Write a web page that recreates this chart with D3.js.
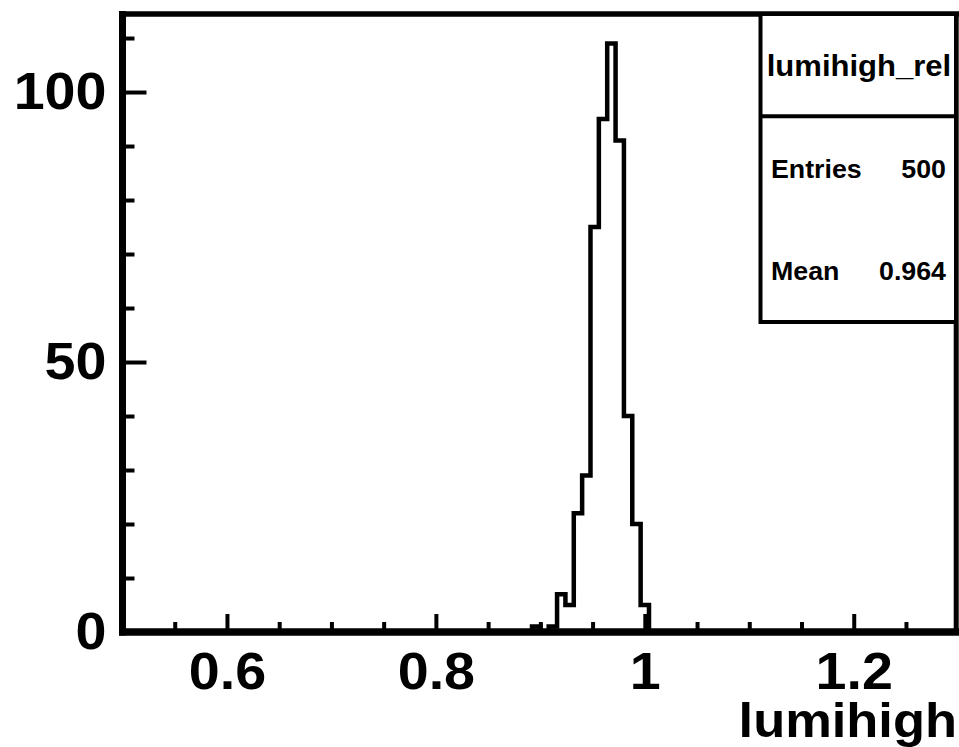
<!DOCTYPE html>
<html lang="en">
<head>
    <meta charset="UTF-8">
    <title>lumihigh_rel</title>
    <style>
        body { margin: 0; background: #fff; }
        text { font-family: "Liberation Sans", Arial, Helvetica, sans-serif; font-weight: bold; fill: #000; }
    </style>
</head>
<body>
    <div id="chart"></div>
    <script src="https://d3js.org/d3.v7.min.js"></script>
    <script>
        // histogram lumihigh_rel, 100 bins of 0.008 between 0.5 and 1.3 (only the filled part listed)
        const xRange = [0.5, 1.3];
        const yRange = [0, 114.45];
        const binWidth = 0.008;
        const binLowEdges = [0.892, 0.900, 0.908, 0.916, 0.924, 0.932, 0.940, 0.948, 0.956, 0.964, 0.972, 0.980, 0.988, 0.996];
        const counts = [1, 0, 1, 7, 5, 22, 29, 75, 95, 109, 91, 40, 20, 5];

        const xMajorTicks = [0.6, 0.8, 1.0, 1.2];
        const xTickLabels = ["0.6", "0.8", "1", "1.2"];
        const xMinorTicks = [0.55, 0.65, 0.7, 0.75, 0.85, 0.9, 0.95, 1.05, 1.1, 1.15, 1.25];
        const yMajorTicks = [0, 50, 100];
        const yTickLabels = ["0", "50", "100"];
        const yMinorTicks = [10, 20, 30, 40, 60, 70, 80, 90, 110];

        const statsTitle = "lumihigh_rel";
        const statsRows = [["Entries", "500"], ["Mean", "0.964"]];
        const xTitle = "lumihigh";

        const width = 959, height = 747;
        const stretch = 1.07; // ROOT output is a bit wider than the font

        const x = d3.scaleLinear().domain(xRange).range([122.5, 958.2]);
        const y = d3.scaleLinear().domain(yRange).range([632, 14]);

        const svg = d3.select("#chart")
            .append("svg")
            .attr("width", width)
            .attr("height", height);

        svg.append("rect")
            .attr("width", width)
            .attr("height", height)
            .attr("fill", "#fff");

        // stretch a text horizontally to the width it has in the picture
        function widen(sel) {
            sel.each(function () {
                const w = this.getComputedTextLength();
                d3.select(this)
                    .attr("textLength", w * stretch)
                    .attr("lengthAdjust", "spacingAndGlyphs");
            });
        }

        // step outline of the histogram
        let pts = [[xRange[0], 0]];
        binLowEdges.forEach(function (e, i) { pts.push([e, counts[i]]); });
        pts.push([binLowEdges[binLowEdges.length - 1] + binWidth, 0]);
        pts.push([xRange[1], 0]);

        const line = d3.line()
            .x(function (d) { return x(d[0]); })
            .y(function (d) { return y(d[1]); })
            .curve(d3.curveStepAfter);

        svg.append("path")
            .datum(pts)
            .attr("d", line)
            .attr("fill", "none")
            .attr("stroke", "#000")
            .attr("stroke-width", 4.5);

        // frame top and right
        svg.append("line")
            .attr("x1", x(xRange[0])).attr("x2", width)
            .attr("y1", y(yRange[1])).attr("y2", y(yRange[1]))
            .attr("stroke", "#000").attr("stroke-width", 5.5);
        svg.append("line")
            .attr("x1", x(xRange[1]) - 2).attr("x2", x(xRange[1]) - 2)
            .attr("y1", y(yRange[1])).attr("y2", y(0))
            .attr("stroke", "#000").attr("stroke-width", 5);

        // x axis
        const xAxis = d3.axisBottom(x)
            .tickValues(xMajorTicks)
            .tickSizeInner(-18)
            .tickSizeOuter(0)
            .tickPadding(20)
            .tickFormat(function (d, i) { return xTickLabels[i]; });
        const xMinor = d3.axisBottom(x)
            .tickValues(xMinorTicks)
            .tickSizeInner(-10)
            .tickSizeOuter(0)
            .tickFormat("");

        const gx = svg.append("g").attr("transform", `translate(0,${y(0)})`);
        gx.call(xMinor);
        gx.append("g").call(xAxis);

        // y axis
        const yAxis = d3.axisLeft(y)
            .tickValues(yMajorTicks)
            .tickSizeInner(-24)
            .tickSizeOuter(0)
            .tickPadding(16)
            .tickFormat(function (d, i) { return yTickLabels[i]; });
        const yMinor = d3.axisLeft(y)
            .tickValues(yMinorTicks)
            .tickSizeInner(-12)
            .tickSizeOuter(0)
            .tickFormat("");

        const gy = svg.append("g").attr("transform", `translate(${x(xRange[0])},0)`);
        gy.call(yMinor);
        gy.append("g").call(yAxis);

        svg.selectAll(".tick line").attr("stroke", "#000").attr("stroke-width", 4);
        svg.selectAll(".domain").remove();
        svg.selectAll(".tick text")
            .style("font-size", "52px")
            .attr("fill", "#000")
            .call(widen);

        // thick axis lines
        svg.append("line")
            .attr("x1", x(xRange[0]) - 3.5).attr("x2", width)
            .attr("y1", y(0)).attr("y2", y(0))
            .attr("stroke", "#000").attr("stroke-width", 7.5);
        svg.append("line")
            .attr("x1", x(xRange[0])).attr("x2", x(xRange[0]))
            .attr("y1", y(yRange[1]) - 3).attr("y2", y(0) + 3.5)
            .attr("stroke", "#000").attr("stroke-width", 7);

        svg.append("text")
            .attr("x", 957)
            .attr("y", 737)
            .attr("text-anchor", "end")
            .style("font-size", "49px")
            .text(xTitle)
            .call(widen);

        // stats box
        const box = svg.append("g");
        box.append("rect")
            .attr("x", 760.5).attr("y", 14)
            .attr("width", 195.5).attr("height", 308)
            .attr("fill", "#fff")
            .attr("stroke", "#000").attr("stroke-width", 4);
        box.append("line")
            .attr("x1", 760.5).attr("x2", 956)
            .attr("y1", 116.3).attr("y2", 116.3)
            .attr("stroke", "#000").attr("stroke-width", 4);
        box.append("text")
            .attr("x", 859).attr("y", 76)
            .attr("text-anchor", "middle")
            .style("font-size", "29px")
            .text(statsTitle)
            .call(widen);
        statsRows.forEach(function (r, i) {
            box.append("text")
                .attr("x", 771).attr("y", 178 + i * 102)
                .style("font-size", "25px")
                .text(r[0])
                .call(widen);
            box.append("text")
                .attr("x", 946).attr("y", 178 + i * 102)
                .attr("text-anchor", "end")
                .style("font-size", "25px")
                .text(r[1])
                .call(widen);
        });
    </script>
</body>
</html>
